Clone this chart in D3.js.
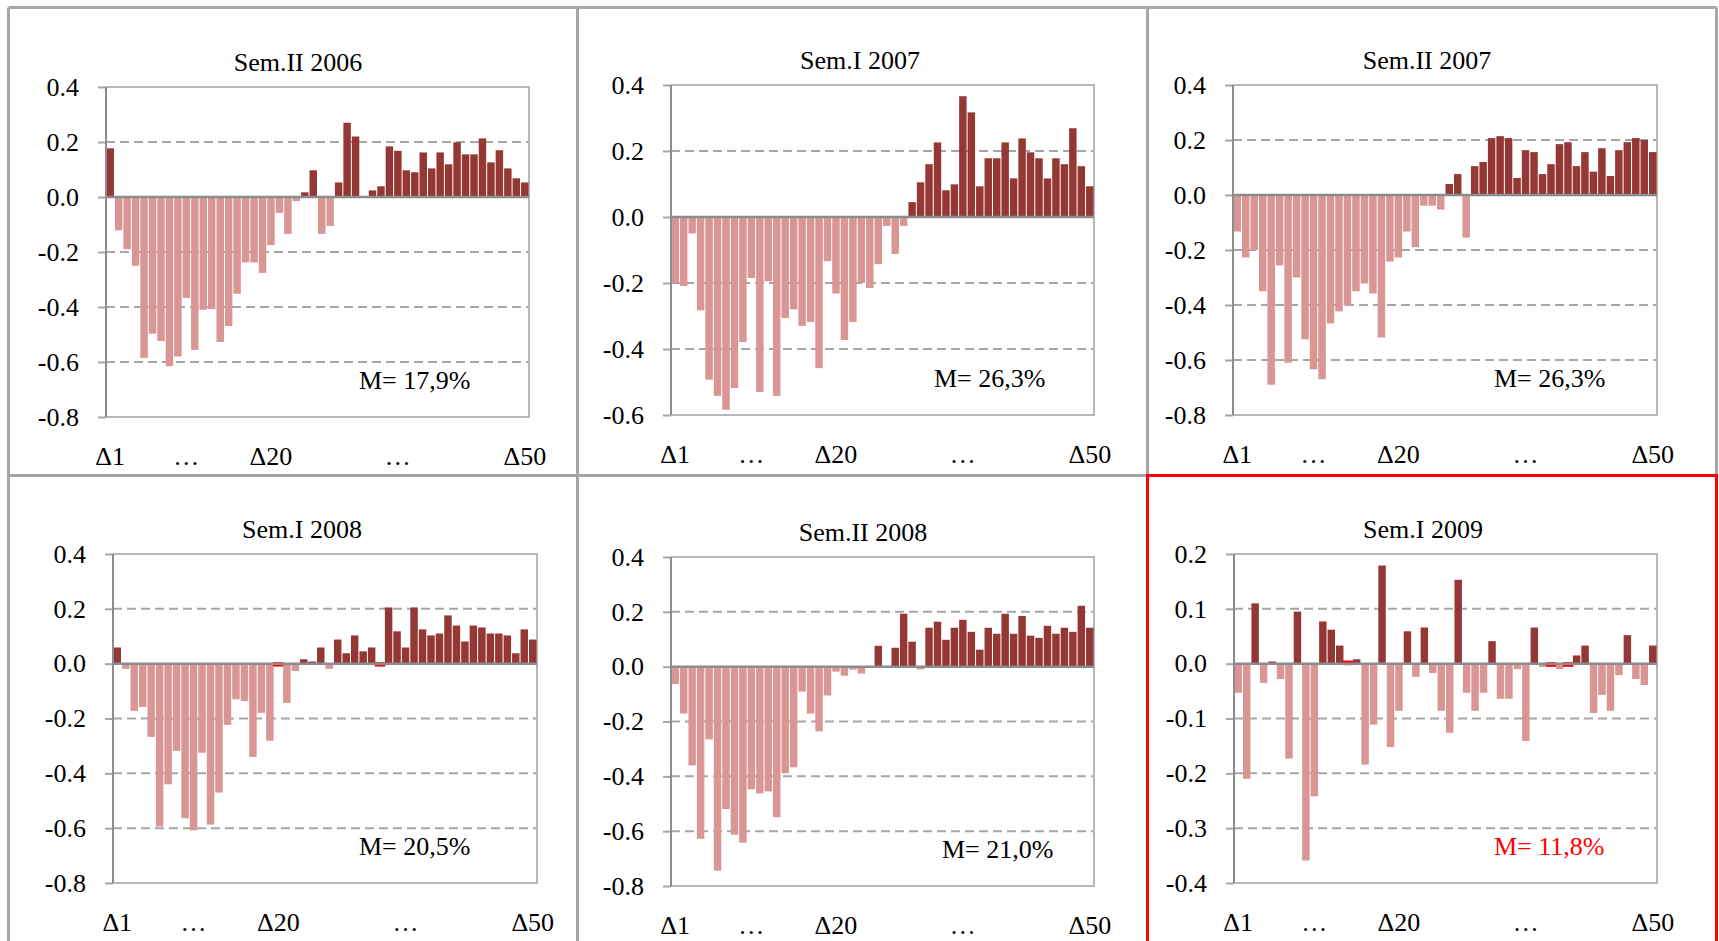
<!DOCTYPE html>
<html>
<head>
<meta charset="utf-8">
<script src="https://cdnjs.cloudflare.com/ajax/libs/d3/7.8.5/d3.min.js"></script>
<style>
body { margin: 0; background: #fff; }
svg { display: block; }
svg text { font-family: "Liberation Serif", "Times New Roman", serif; }
</style>
</head>
<body>
<div id="elements"></div>
<script>
'use strict';
// 50 deltas per semester
var categories = d3.range(1, 51);
var xTickIndex = [1, 10, 20, 35, 50];
var xTickLabels = ["\u03941", "\u2026", "\u039420", "\u2026", "\u039450"];

var titles = ["Sem.II 2006", "Sem.I 2007", "Sem.II 2007", "Sem.I 2008", "Sem.II 2008", "Sem.I 2009"];
var meanLabels = ["M= 17,9%", "M= 26,3%", "M= 26,3%", "M= 20,5%", "M= 21,0%", "M= 11,8%"];

var sem2_2006 = [0.177, -0.121, -0.19, -0.25, -0.585, -0.497, -0.524, -0.615, -0.58, -0.367,
    -0.556, -0.41, -0.407, -0.527, -0.469, -0.352, -0.238, -0.238, -0.276, -0.175,
    -0.058, -0.134, -0.015, 0.017, 0.097, -0.134, -0.105, 0.053, 0.27, 0.22,
    0, 0.024, 0.039, 0.184, 0.168, 0.097, 0.09, 0.162, 0.104, 0.162,
    0.119, 0.199, 0.155, 0.155, 0.213, 0.126, 0.17, 0.104, 0.068, 0.053];
var sem1_2007 = [-0.2, -0.209, -0.05, -0.283, -0.493, -0.542, -0.584, -0.518, -0.379, -0.185,
    -0.53, -0.195, -0.542, -0.306, -0.28, -0.33, -0.318, -0.458, -0.134, -0.232,
    -0.373, -0.318, -0.2, -0.215, -0.143, -0.027, -0.112, -0.027, 0.045, 0.105,
    0.16, 0.226, 0.081, 0.099, 0.366, 0.317, 0.093, 0.178, 0.178, 0.226,
    0.117, 0.238, 0.196, 0.178, 0.117, 0.178, 0.16, 0.269, 0.154, 0.093];
var sem2_2007 = [-0.133, -0.227, -0.2, -0.35, -0.69, -0.256, -0.61, -0.3, -0.525, -0.634,
    -0.67, -0.467, -0.423, -0.401, -0.35, -0.322, -0.358, -0.518, -0.242, -0.227,
    -0.133, -0.19, -0.039, -0.039, -0.053, 0.04, 0.076, -0.155, 0.105, 0.12,
    0.207, 0.214, 0.207, 0.062, 0.163, 0.156, 0.076, 0.112, 0.185, 0.192,
    0.105, 0.156, 0.085, 0.17, 0.069, 0.163, 0.192, 0.207, 0.2, 0.156];
var sem1_2008 = [0.059, -0.019, -0.172, -0.158, -0.267, -0.594, -0.44, -0.318, -0.564, -0.608,
    -0.325, -0.587, -0.47, -0.223, -0.13, -0.136, -0.34, -0.179, -0.281, -0.005,
    -0.143, -0.027, 0.016, 0.008, 0.059, -0.019, 0.088, 0.038, 0.103, 0.045,
    0.059, -0.005, 0.205, 0.118, 0.059, 0.205, 0.125, 0.103, 0.11, 0.176,
    0.139, 0.081, 0.139, 0.132, 0.11, 0.11, 0.103, 0.038, 0.125, 0.088];
var sem2_2008 = [-0.063, -0.171, -0.36, -0.628, -0.265, -0.744, -0.519, -0.613, -0.642, -0.447,
    -0.462, -0.455, -0.549, -0.389, -0.367, -0.091, -0.171, -0.236, -0.105, -0.018,
    -0.033, -0.011, -0.025, 0, 0.076, 0, 0.069, 0.193, 0.091, -0.01,
    0.142, 0.164, 0.098, 0.142, 0.171, 0.127, 0.062, 0.142, 0.12, 0.193,
    0.12, 0.185, 0.113, 0.105, 0.149, 0.12, 0.142, 0.127, 0.222, 0.142];
var sem1_2009 = [-0.053, -0.21, 0.11, -0.035, 0.004, -0.028, -0.173, 0.095, -0.359, -0.242,
    0.077, 0.062, 0.033, 0.003, 0.008, -0.184, -0.111, 0.179, -0.152, -0.086,
    0.059, -0.024, 0.066, -0.017, -0.086, -0.126, 0.153, -0.053, -0.086, -0.053,
    0.041, -0.064, -0.064, -0.01, -0.141, 0.066, -0.006, -0.003, -0.01, -0.003,
    0.015, 0.033, -0.09, -0.057, -0.086, -0.021, 0.052, -0.028, -0.039, 0.033];

// deltas highlighted in bright red
var flagged = [[], [], [], [20, 32], [], [14, 38, 40]];

var yTicksWide = [0.4, 0.2, 0.0, -0.2, -0.4, -0.6, -0.8];
var yTicksMid = [0.4, 0.2, 0.0, -0.2, -0.4, -0.6];
var yTicksNarrow = [0.2, 0.1, 0.0, -0.1, -0.2, -0.3, -0.4];

var series = [sem2_2006, sem1_2007, sem2_2007, sem1_2008, sem2_2008, sem1_2009];
var yTicks = [yTicksWide, yTicksMid, yTicksWide, yTicksWide, yTicksWide, yTicksNarrow];

// where each small chart sits on the page
var layout = [
    {left: 106, right: 529, top: 87, bottom: 417, titleX: 298, meanX: 359},
    {left: 671, right: 1094, top: 85, bottom: 415, titleX: 860, meanX: 934},
    {left: 1233, right: 1657, top: 85, bottom: 415, titleX: 1427, meanX: 1494},
    {left: 113, right: 537, top: 554, bottom: 883, titleX: 302, meanX: 359},
    {left: 671, right: 1094, top: 557, bottom: 886, titleX: 863, meanX: 942},
    {left: 1234, right: 1657, top: 554, bottom: 883, titleX: 1423, meanX: 1494}
];
var highlightPanel = 5;

var colPos = "#953735", colNeg = "#D99694", colFlag = "#FF0000";
var axisGray = "#8C8C8C", gridGray = "#A6A6A6", frameGray = "#B8B8B8";
var serif = "'Liberation Serif', 'Times New Roman', serif";

var W = 1719, H = 941;
var svg = d3.select("#elements").append("svg")
    .attr("width", W)
    .attr("height", H);

// table frame around the six charts
var colEdges = [8.5, 577.5, 1147.5, 1716.5];
var rowEdges = [7.5, 475.5, 960];
var frame = svg.append("g")
    .attr("stroke", "#A6A6A6")
    .attr("stroke-width", 3)
    .attr("fill", "none");
frame.selectAll("line.v")
    .data(colEdges)
    .enter().append("line")
        .attr("x1", function(d) { return d; })
        .attr("x2", function(d) { return d; })
        .attr("y1", rowEdges[0])
        .attr("y2", rowEdges[2]);
frame.selectAll("line.h")
    .data(rowEdges.slice(0, 2))
    .enter().append("line")
        .attr("x1", colEdges[0])
        .attr("x2", colEdges[3])
        .attr("y1", function(d) { return d; })
        .attr("y2", function(d) { return d; });

layout.forEach(function(box, p) {
    var values = series[p];
    var ticks = yTicks[p];
    var yMin = d3.min(ticks), yMax = d3.max(ticks);

    var x = d3.scaleBand()
        .domain(categories)
        .range([box.left, box.right])
        .padding(0);
    var y = d3.scaleLinear()
        .domain([yMin, yMax])
        .range([box.bottom, box.top]);

    var g = svg.append("g");

    // dashed gridlines
    g.selectAll("line.grid")
        .data(ticks.filter(function(t) { return t !== 0 && t !== yMin && t !== yMax; }))
        .enter().append("line")
            .attr("x1", box.left)
            .attr("x2", box.right)
            .attr("y1", function(d) { return y(d); })
            .attr("y2", function(d) { return y(d); })
            .attr("stroke", gridGray)
            .attr("stroke-width", 2)
            .attr("stroke-dasharray", "9,5");

    // plot area frame (top, right, bottom)
    g.append("path")
        .attr("d", "M" + box.left + "," + y(yMax) + "H" + box.right + "V" + y(yMin) + "H" + box.left)
        .attr("fill", "none")
        .attr("stroke", frameGray)
        .attr("stroke-width", 2);

    var bars = categories.map(function(c, i) {
        return {cat: c, value: values[i], flag: flagged[p].indexOf(c) >= 0};
    });

    g.selectAll("rect.bar")
        .data(bars)
        .enter().append("rect")
            .attr("class", "bar")
            .attr("x", function(d) { return x(d.cat) + 0.5; })
            .attr("width", x.bandwidth() - 1)
            .attr("y", function(d) { return Math.min(y(d.value), y(0)); })
            .attr("height", function(d) { return Math.abs(y(d.value) - y(0)); })
            .attr("fill", function(d) {
                if (d.flag) return colFlag;
                return d.value >= 0 ? colPos : colNeg;
            })
            .attr("stroke", function(d) { return d.flag ? colFlag : "none"; })
            .attr("stroke-width", 3);

    // zero line and left axis
    g.append("line")
        .attr("x1", box.left)
        .attr("x2", box.right)
        .attr("y1", y(0))
        .attr("y2", y(0))
        .attr("stroke", axisGray)
        .attr("stroke-width", 2.5);

    var axisLeft = g.append("g")
        .attr("transform", "translate(" + box.left + ",0)")
        .call(d3.axisLeft(y)
            .tickValues(ticks)
            .tickSize(8)
            .tickPadding(19)
            .tickFormat(function(d) { return d.toFixed(1); }));
    axisLeft.select(".domain").remove();
    axisLeft.selectAll("line")
        .attr("stroke", gridGray)
        .attr("stroke-width", 2);
    axisLeft.style("font-family", serif)
        .style("font-size", "26px");
    axisLeft.selectAll("text")
        .style("font-family", serif)
        .attr("fill", "#000");

    g.append("line")
        .attr("x1", box.left)
        .attr("x2", box.left)
        .attr("y1", box.top)
        .attr("y2", box.bottom)
        .attr("stroke", axisGray)
        .attr("stroke-width", 2);

    // category labels under the plot
    var axisBottom = g.append("g")
        .attr("transform", "translate(0," + box.bottom + ")")
        .call(d3.axisBottom(x)
            .tickValues(xTickIndex)
            .tickSize(0)
            .tickPadding(30)
            .tickFormat(function(d) { return xTickLabels[xTickIndex.indexOf(d)]; }));
    axisBottom.select(".domain").remove();
    axisBottom.style("font-family", serif)
        .style("font-size", "26px");
    axisBottom.selectAll("text")
        .style("font-family", serif)
        .attr("fill", "#000");

    g.append("text")
        .attr("x", box.titleX)
        .attr("y", box.top - 16)
        .attr("text-anchor", "middle")
        .style("font-size", "26px")
        .attr("fill", "#000")
        .text(titles[p]);

    g.append("text")
        .attr("x", box.meanX)
        .attr("y", box.bottom - 28)
        .style("font-size", "26px")
        .attr("fill", p === highlightPanel ? "#FF0000" : "#000")
        .text(meanLabels[p]);
});

// the last chart is boxed in red
svg.append("rect")
    .attr("x", colEdges[2])
    .attr("y", rowEdges[1])
    .attr("width", colEdges[3] - colEdges[2])
    .attr("height", 500)
    .attr("fill", "none")
    .attr("stroke", "#FF0000")
    .attr("stroke-width", 3);
</script>
</body>
</html>
